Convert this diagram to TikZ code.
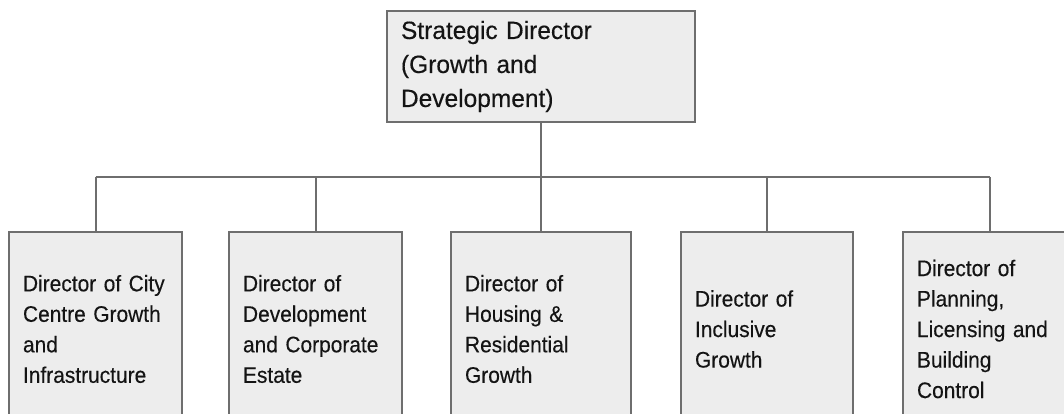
\documentclass[tikz,border=0pt]{standalone}
\usepackage{fontspec}
\setmainfont{Liberation Sans}
\newfontfamily\headfont[FakeStretch=0.98,WordSpace=0.85,FakeBold=0.3]{Liberation Sans}
\newfontfamily\unitfont[FakeStretch=0.93,WordSpace=0.8,FakeBold=0.3]{Liberation Sans}
\definecolor{boxfill}{HTML}{EDEDED}
\definecolor{boxline}{HTML}{6E6E6E}
\definecolor{inktext}{HTML}{141414}
\begin{document}
\begin{tikzpicture}[x=1pt,y=-1pt,
  orgbox/.style={draw=boxline, fill=boxfill, text=inktext, rectangle,
    align=left, inner xsep=14pt, inner ysep=3pt},
  headbox/.style={orgbox, line width=2.4pt, text width=280pt, minimum height=111pt,
    font=\headfont\fontsize{25}{34}\selectfont},
  unitbox/.style={orgbox, line width=2pt, minimum height=194pt, anchor=north,
    font=\unitfont\fontsize{22.5}{30.5}\selectfont},
  link/.style={draw=boxline, line width=2pt}]
  \useasboundingbox (0,0) rectangle (1064,413);
  \clip (0,0) rectangle (1064,413);

  % head of the directorate
  \node[headbox] (head) at (541,66.5) {Strategic Director\\(Growth and\\Development)};

  % directors reporting to the head
  \node[unitbox, text width=145pt] (d1) at (95.5,231)
    {Director of City\\Centre Growth\\and\\Infrastructure};
  \node[unitbox, text width=145pt] (d2) at (315.5,231)
    {Director of\\Development\\and Corporate\\Estate};
  \node[unitbox, text width=152pt] (d3) at (541,231)
    {Director of\\Housing \&\\Residential\\Growth};
  \node[unitbox, text width=144pt] (d4) at (767,231)
    {Director of\\Inclusive\\Growth};
  \node[unitbox, text width=145pt] (d5) at (989.5,231)
    {Director of\\Planning,\\Licensing and\\Building\\Control};

  % reporting lines
  \coordinate (bus) at (0,177);
  \draw[link] (head.south) -- (head.south |- bus);
  \draw[link] (d1.north |- bus) -- (d5.north |- bus);
  \foreach \d in {d1,d2,d3,d4,d5}
    \draw[link] (\d.north |- bus) -- (\d.north);
\end{tikzpicture}
\end{document}
